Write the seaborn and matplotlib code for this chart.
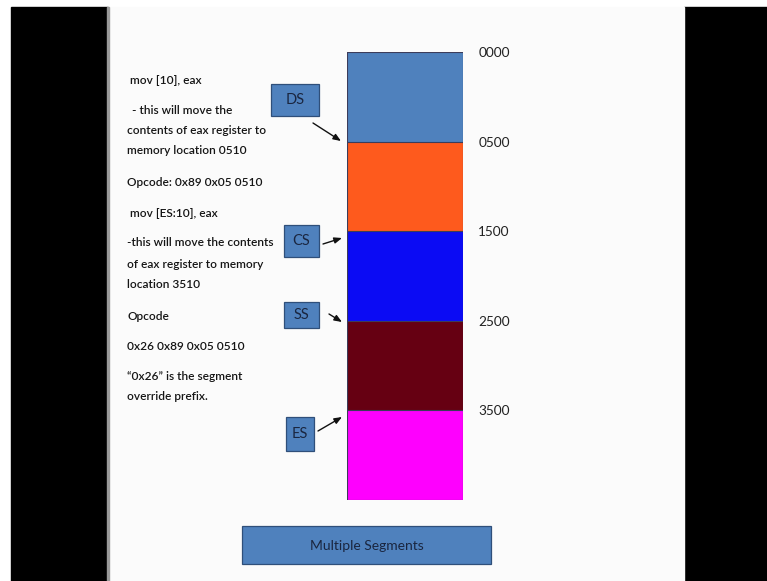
import matplotlib
matplotlib.use("Agg")
import matplotlib.pyplot as plt
import seaborn as sns
import pandas as pd
from matplotlib.patches import Rectangle

W, H = 767, 581

# memory column, top to bottom (one equal slot per segment, as on the slide)
segments = ['base', 'DS', 'CS', 'SS', 'ES']
seg_colors = ['#4f81bd', '#fe5a1d', '#0b0bf4', '#660012', '#fe00fe']
seg_slots = [1, 2, 3, 4, 5]
addresses = ['0000', '0500', '1500', '2500', '3500']

notes = ["mov [10], eax",
         "- this will move the",
         "contents of eax register to",
         "memory location 0510",
         "Opcode: 0x89 0x05 0510",
         "mov [ES:10], eax",
         "-this will move the contents",
         "of eax register to memory",
         "location 3510",
         "Opcode",
         "0x26 0x89 0x05 0510",
         "\u201c0x26\u201d is the segment",
         "override prefix."]
note_x = [130, 132, 127, 127, 127, 130, 127, 127, 127, 127, 127, 127, 127]
note_y = [80, 110, 131, 151, 182, 214, 243, 264, 284, 316, 346, 377, 397]

title = "Multiple Segments"

plt.rcParams['font.family'] = ['Lato', 'DejaVu Sans']


def fx(x):
    return x / W


def fy(y):
    return 1 - y / H


fig = plt.figure(figsize=(W / 100, H / 100), dpi=100, facecolor='white')

# video frame: black bars either side of the slide
for (x0, y0, x1, y1, c) in [(11, 7, 108, H, 'black'), (684, 7, W, H, 'black'),
                            (108, 7, 684, H, '#fbfbfb')]:
    fig.add_artist(Rectangle((fx(x0), fy(y1)), fx(x1) - fx(x0), fy(y0) - fy(y1),
                             transform=fig.transFigure, color=c, zorder=-10))
fig.add_artist(Rectangle((fx(107), 0), fx(1.5), fy(7), transform=fig.transFigure,
                         color='#9a9a9a', zorder=-9))

# memory column
ax = fig.add_axes([fx(347), fy(500), fx(463) - fx(347), fy(52) - fy(500)])
ax.patch.set_visible(False)
df = pd.DataFrame({'col': 'mem', 'seg': segments, 'slot': seg_slots})
sns.barplot(data=df, x='col', y='slot', hue='seg', hue_order=segments[::-1],
            palette=dict(zip(segments, seg_colors)), saturation=1, dodge=False,
            width=1, edgecolor='#3c3c5a', linewidth=0.8, errorbar=None,
            legend=False, ax=ax)
ax.set_xlim(-0.5, 0.5)
ax.set_ylim(len(segments), 0)
ax.set_xticks([])
ax.set_yticks(range(len(addresses)))
ax.set_yticklabels(addresses)
ax.yaxis.tick_right()
ax.tick_params(axis='y', length=0, pad=11, labelsize=9.8, labelcolor='#222222')
ax.set_xlabel('')
ax.set_ylabel('')
for s in ax.spines.values():
    s.set_visible(False)

# left-hand notes
for txt, x, y in zip(notes, note_x, note_y):
    fig.text(fx(x), fy(y), txt, ha='left', va='center', fontsize=8.6,
             fontweight='semibold', color='#151515')

# segment register boxes with arrows
boxes = [('DS', 271, 84, 319, 116, (313, 123), (341, 141)),
         ('CS', 284, 225, 319, 257, (323, 244), (342, 238)),
         ('SS', 284, 302, 319, 328, (329, 314), (342, 322)),
         ('ES', 286, 417, 314, 451, (318, 431), (342, 417))]
for name, x0, y0, x1, y1, a0, a1 in boxes:
    fig.add_artist(Rectangle((fx(x0), fy(y1)), fx(x1) - fx(x0), fy(y0) - fy(y1),
                             transform=fig.transFigure, facecolor='#4f81bd',
                             edgecolor='#2f4f7a', linewidth=0.9, zorder=2))
    fig.text(fx((x0 + x1) / 2), fy((y0 + y1) / 2), name, ha='center', va='center',
             fontsize=10.5, color='#1a2640', zorder=3)
    ax.annotate('', xy=(a1[0], H - a1[1]), xycoords='figure pixels',
                xytext=(a0[0], H - a0[1]), textcoords='figure pixels',
                arrowprops=dict(arrowstyle='-|>,head_length=0.45,head_width=0.18',
                                color='#111111', lw=1, shrinkA=0, shrinkB=0),
                annotation_clip=False)

# title box at the bottom
fig.add_artist(Rectangle((fx(242), fy(564)), fx(491) - fx(242), fy(526) - fy(564),
                         transform=fig.transFigure, facecolor='#4f81bd',
                         edgecolor='#2f4f7a', linewidth=0.9, zorder=2))
fig.text(fx(366.5), fy(546), title, ha='center', va='center', fontsize=10,
         color='#1a2640', zorder=3)

fig.savefig('out.png', dpi=100)
